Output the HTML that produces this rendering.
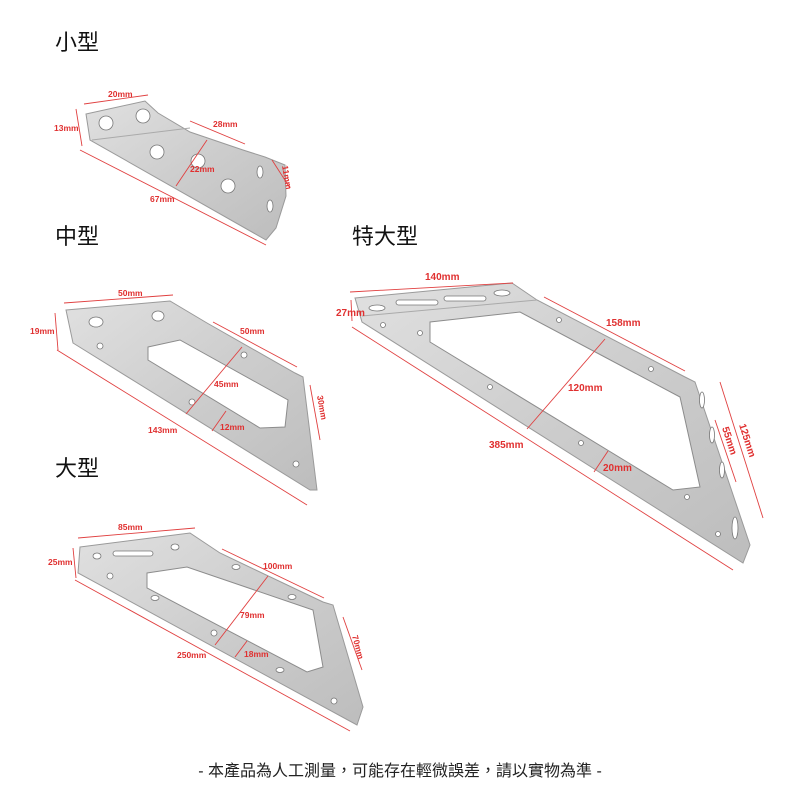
<!DOCTYPE html><html><head><meta charset="utf-8"><style>
body{margin:0;background:#fff;}
svg{display:block}
.t{font-family:"Liberation Sans","Noto Sans CJK TC",sans-serif;font-size:22px;fill:#111}
.r{font-family:"Liberation Sans",sans-serif;font-size:8.5px;fill:#e03030;font-weight:bold}
.rl{font-family:"Liberation Sans",sans-serif;font-size:10px;fill:#e03030;font-weight:bold}
.d{stroke:#e04040;stroke-width:0.9;fill:none}
.m{fill:url(#g);stroke:#9a9a9a;stroke-width:1}
.h{fill:#fff;stroke:#8c8c8c;stroke-width:1}
.o{fill:#fff;stroke:#777;stroke-width:0.8}
</style></head><body>
<svg width="800" height="800" viewBox="0 0 800 800">
<defs><linearGradient id="g" x1="0" y1="0" x2="1" y2="1"><stop offset="0" stop-color="#e0e0e0"/><stop offset="0.5" stop-color="#cdcdcd"/><stop offset="1" stop-color="#bdbdbd"/></linearGradient></defs>
<text class="t" x="55" y="50">小型</text>
<text class="t" x="55" y="244">中型</text>
<text class="t" x="352" y="244">特大型</text>
<text class="t" x="55" y="476">大型</text>
<text x="400" y="776" text-anchor="middle" style="font-family:'Liberation Sans','Noto Sans CJK TC',sans-serif;font-size:16px;fill:#222">- 本產品為人工測量，可能存在輕微誤差，請以實物為準 -</text>

<!-- small -->
<polygon class="m" points="86,114 145,101 158,113 190,132 243,150 265,157 285,165 286,196 276,228 266,240 90,140"/>
<line x1="92" y1="140" x2="190" y2="128" stroke="#aaa"/>
<circle class="o" cx="106" cy="123" r="7"/><circle class="o" cx="143" cy="116" r="7"/>
<circle class="o" cx="157" cy="152" r="7"/><circle class="o" cx="198" cy="161" r="7"/><circle class="o" cx="228" cy="186" r="7"/>
<ellipse class="o" cx="260" cy="172" rx="3" ry="6"/><ellipse class="o" cx="270" cy="206" rx="3" ry="6"/>
<line class="d" x1="84" y1="104" x2="148" y2="95"/><text class="r" x="108" y="97">20mm</text>
<line class="d" x1="76" y1="109" x2="82" y2="146"/><text class="r" x="54" y="131">13mm</text>
<line class="d" x1="190" y1="121" x2="245" y2="144"/><text class="r" x="213" y="127">28mm</text>
<line class="d" x1="176" y1="186" x2="207" y2="140"/><text class="r" x="190" y="172">22mm</text>
<line class="d" x1="80" y1="150" x2="266" y2="245"/><text class="r" x="150" y="202">67mm</text>
<line class="d" x1="272" y1="160" x2="290" y2="188"/><text class="r" x="282" y="166" transform="rotate(80 282 166)">11mm</text>

<!-- medium -->
<polygon class="m" points="66,310 170,301 207,323 295,373 303,377 317,490 310,490 73,343"/>
<polygon class="h" points="148,347 180,340 288,400 285,427 260,428 148,360"/>
<ellipse class="o" cx="96" cy="322" rx="7" ry="5"/><ellipse class="o" cx="158" cy="316" rx="6" ry="5"/>
<circle class="o" cx="100" cy="346" r="3"/><circle class="o" cx="244" cy="355" r="3"/><circle class="o" cx="192" cy="402" r="3"/><circle class="o" cx="296" cy="464" r="3"/>
<line class="d" x1="64" y1="303" x2="173" y2="295"/><text class="r" x="118" y="296">50mm</text>
<line class="d" x1="55" y1="313" x2="58" y2="350"/><text class="r" x="30" y="334">19mm</text>
<line class="d" x1="213" y1="322" x2="297" y2="367"/><text class="r" x="240" y="334">50mm</text>
<line class="d" x1="186" y1="414" x2="242" y2="347"/><text class="r" x="214" y="387">45mm</text>
<line class="d" x1="212" y1="431" x2="226" y2="411"/><text class="r" x="220" y="430">12mm</text>
<line class="d" x1="57" y1="350" x2="307" y2="505"/><text class="r" x="148" y="433">143mm</text>
<line class="d" x1="310" y1="385" x2="320" y2="440"/><text class="r" x="317" y="396" transform="rotate(80 317 396)">30mm</text>

<!-- large -->
<polygon class="m" points="80,547 190,533 220,553 323,602 333,605 363,707 357,725 78,573"/>
<polygon class="h" points="147,573 187,567 313,610 323,667 307,672 147,588"/>
<ellipse class="o" cx="97" cy="556" rx="4" ry="3"/><rect class="o" x="113" y="551" width="40" height="5" rx="2.5"/><ellipse class="o" cx="175" cy="547" rx="4" ry="3"/>
<circle class="o" cx="110" cy="576" r="3"/><ellipse class="o" cx="236" cy="567" rx="4" ry="2.5"/><ellipse class="o" cx="292" cy="597" rx="4" ry="2.5"/>
<ellipse class="o" cx="155" cy="598" rx="4" ry="2.5"/><circle class="o" cx="214" cy="633" r="3"/><ellipse class="o" cx="280" cy="670" rx="4" ry="2.5"/><circle class="o" cx="334" cy="701" r="3"/>
<line class="d" x1="78" y1="538" x2="195" y2="528"/><text class="r" x="118" y="530">85mm</text>
<line class="d" x1="73" y1="548" x2="76" y2="578"/><text class="r" x="48" y="565">25mm</text>
<line class="d" x1="222" y1="549" x2="324" y2="598"/><text class="r" x="263" y="569">100mm</text>
<line class="d" x1="215" y1="645" x2="268" y2="576"/><text class="r" x="240" y="618">79mm</text>
<line class="d" x1="235" y1="657" x2="247" y2="641"/><text class="r" x="244" y="657">18mm</text>
<line class="d" x1="75" y1="580" x2="350" y2="731"/><text class="r" x="177" y="658">250mm</text>
<line class="d" x1="343" y1="617" x2="362" y2="670"/><text class="r" x="352" y="636" transform="rotate(75 352 636)">70mm</text>

<!-- extra large -->
<polygon class="m" points="355,298 512,283 537,300 685,377 695,382 750,545 743,563 362,322"/>
<line x1="362" y1="316" x2="537" y2="300" stroke="#aaa"/>
<polygon class="h" points="430,322 520,312 680,397 700,487 673,490 430,342"/>
<ellipse class="o" cx="377" cy="308" rx="8" ry="3"/><rect class="o" x="396" y="300" width="42" height="5" rx="2.5"/><rect class="o" x="444" y="296" width="42" height="5" rx="2.5"/><ellipse class="o" cx="502" cy="293" rx="8" ry="3"/>
<circle class="o" cx="383" cy="325" r="2.5"/><circle class="o" cx="420" cy="333" r="2.5"/><circle class="o" cx="559" cy="320" r="2.5"/><circle class="o" cx="651" cy="369" r="2.5"/>
<circle class="o" cx="490" cy="387" r="2.5"/><circle class="o" cx="581" cy="443" r="2.5"/><circle class="o" cx="687" cy="497" r="2.5"/><circle class="o" cx="718" cy="534" r="2.5"/>
<ellipse class="o" cx="702" cy="400" rx="2.5" ry="8"/><ellipse class="o" cx="712" cy="435" rx="2.5" ry="8"/><ellipse class="o" cx="722" cy="470" rx="2.5" ry="8"/><ellipse class="o" cx="735" cy="528" rx="3" ry="11"/>
<line class="d" x1="350" y1="292" x2="513" y2="283"/><text class="rl" x="425" y="280">140mm</text>
<line class="d" x1="351" y1="300" x2="352" y2="321"/><text class="rl" x="336" y="316">27mm</text>
<line class="d" x1="544" y1="297" x2="685" y2="371"/><text class="rl" x="606" y="326">158mm</text>
<line class="d" x1="527" y1="429" x2="605" y2="339"/><text class="rl" x="568" y="391">120mm</text>
<line class="d" x1="352" y1="327" x2="733" y2="570"/><text class="rl" x="489" y="448">385mm</text>
<line class="d" x1="594" y1="472" x2="608" y2="451"/><text class="rl" x="603" y="471">20mm</text>
<line class="d" x1="715" y1="420" x2="736" y2="482"/><text class="rl" x="722" y="428" transform="rotate(72 722 428)">55mm</text>
<line class="d" x1="720" y1="382" x2="763" y2="518"/><text class="rl" x="739" y="425" transform="rotate(72 739 425)">125mm</text>
</svg>
</body></html>
